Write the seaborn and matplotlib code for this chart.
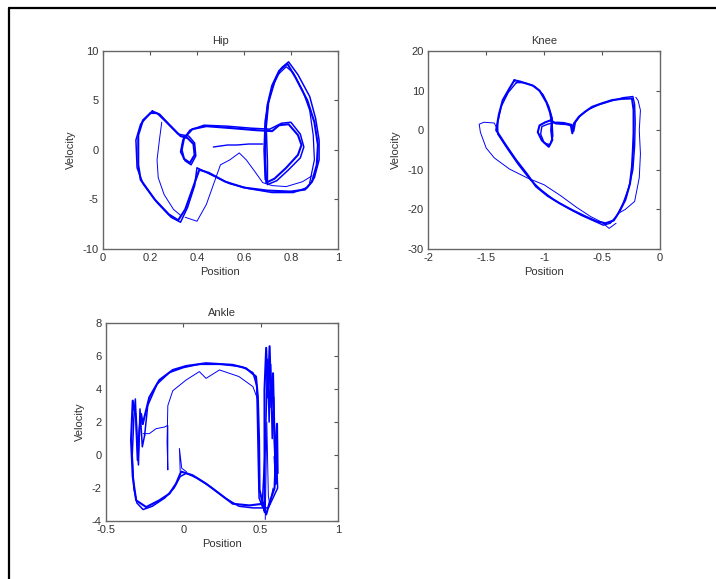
import numpy as np
import pandas as pd
import matplotlib
matplotlib.use("Agg")
import matplotlib.pyplot as plt
from matplotlib.lines import Line2D
import seaborn as sns

# Phase portraits (position, velocity)
# Hip
hip_main_x = [0.21, 0.17, 0.15, 0.15, 0.16, 0.22, 0.28, 0.32, 0.35, 0.38, 0.41, 0.45, 0.52, 0.60, 0.70,
              0.80, 0.86, 0.89, 0.91, 0.915, 0.90, 0.87, 0.82, 0.785, 0.75, 0.72, 0.70, 0.69, 0.69, 0.695,
              0.73, 0.78, 0.83, 0.845, 0.83, 0.79, 0.75, 0.72, 0.65, 0.55, 0.44, 0.38, 0.345, 0.335, 0.345,
              0.37, 0.39, 0.385, 0.36, 0.33, 0.28, 0.24, 0.21]
hip_main_y = [3.9, 3.0, 1.5, -1.5, -3.0, -5.0, -6.5, -7.1, -6.0, -4.0, -2.0, -2.3, -3.2, -3.8, -4.1,
              -4.2, -4.0, -3.2, -1.5, 0.5, 2.8, 5.0, 7.3, 8.7, 8.0, 6.5, 4.5, 2.0, -1.0, -3.3,
              -2.9, -1.8, -0.5, 0.5, 1.5, 2.6, 2.5, 1.9, 2.0, 2.2, 2.4, 2.1, 1.2, 0.0, -0.9,
              -1.3, -0.5, 0.6, 1.2, 1.4, 2.6, 3.6, 3.9]
hip_alt_x = [0.20, 0.16, 0.14, 0.145, 0.17, 0.23, 0.29, 0.33, 0.36, 0.39, 0.40, 0.46, 0.54, 0.62, 0.72,
             0.81, 0.87, 0.90, 0.92, 0.92, 0.905, 0.88, 0.83, 0.79, 0.76, 0.73, 0.705, 0.695, 0.70, 0.70,
             0.74, 0.79, 0.84, 0.855, 0.84, 0.80, 0.76, 0.71, 0.63, 0.53, 0.43, 0.37, 0.34, 0.33, 0.35,
             0.375, 0.395, 0.39, 0.365, 0.32, 0.27, 0.23, 0.20]
hip_alt_y = [3.7, 2.6, 1.0, -1.8, -3.4, -5.3, -6.8, -7.3, -5.8, -3.6, -1.8, -2.5, -3.4, -3.9, -4.3,
             -4.3, -3.8, -2.8, -1.0, 1.0, 3.2, 5.4, 7.6, 8.9, 8.3, 6.8, 4.8, 2.3, -1.2, -3.5,
             -3.1, -2.0, -0.8, 0.3, 1.6, 2.8, 2.7, 2.1, 2.2, 2.4, 2.5, 2.0, 1.0, -0.2, -1.1,
             -1.5, -0.6, 0.7, 1.4, 1.6, 2.8, 3.7, 3.7]
hip_lobe_x = [0.69, 0.685, 0.69, 0.71, 0.74, 0.78, 0.81, 0.85, 0.88, 0.895, 0.90, 0.88]
hip_lobe_y = [-3.0, 0.0, 3.0, 5.5, 7.5, 8.4, 7.8, 6.0, 4.0, 1.5, -1.0, -3.3]
hip_thin1_x = [0.25, 0.24, 0.23, 0.235, 0.26, 0.30, 0.33]
hip_thin1_y = [2.8, 1.0, -1.0, -2.8, -4.5, -6.0, -6.6]
hip_thin2_x = [0.35, 0.40, 0.44, 0.47, 0.50, 0.54, 0.58, 0.61, 0.65, 0.68, 0.72, 0.78, 0.85, 0.89]
hip_thin2_y = [-6.8, -7.2, -5.5, -3.5, -1.5, -1.0, -0.3, -1.0, -2.3, -3.3, -3.6, -3.7, -3.2, -2.6]
hip_thin3_x = [0.47, 0.50, 0.53, 0.57, 0.62, 0.68]
hip_thin3_y = [0.3, 0.4, 0.5, 0.5, 0.6, 0.6]

# Knee
knee_main_x = [-1.257, -1.30, -1.357, -1.39, -1.414, -1.33, -1.243, -1.15, -1.071, -0.97, -0.871, -0.75,
               -0.643, -0.55, -0.471, -0.40, -0.35, -0.30, -0.26, -0.243, -0.235, -0.229, -0.229, -0.243,
               -0.33, -0.414, -0.50, -0.586, -0.65, -0.70, -0.743, -0.757, -0.77, -0.81, -0.86, -0.90,
               -0.943, -0.99, -1.04, -1.055, -1.02, -0.96, -0.93, -0.94, -0.935, -0.95, -0.98, -1.04,
               -1.10, -1.157, -1.21, -1.257]
knee_main_y = [12.6, 10.5, 7.6, 4.0, 0.0, -3.8, -7.5, -11.0, -14.2, -16.6, -18.4, -20.3,
               -21.8, -23.0, -23.5, -22.8, -20.5, -17.6, -13.5, -9.2, -5.0, -0.7, 5.1, 8.0,
               7.9, 7.6, 6.8, 5.9, 4.6, 3.4, 1.7, -0.8, 1.2, 1.5, 1.6, 1.7,
               2.5, 2.0, 1.2, -0.5, -2.6, -4.2, -2.5, 0.0, 2.2, 4.5, 7.0, 10.0,
               11.3, 11.8, 12.3, 12.6]
knee_alt_x = [-1.24, -1.31, -1.37, -1.40, -1.40, -1.31, -1.22, -1.12, -1.03, -0.92, -0.80, -0.68,
              -0.58, -0.49, -0.43, -0.37, -0.32, -0.27, -0.235, -0.22, -0.215, -0.22, -0.235, -0.32,
              -0.43, -0.53, -0.62, -0.69, -0.73, -0.745, -0.76, -0.83, -0.89, -0.93, -0.97, -1.02,
              -1.03, -1.00, -0.95, -0.925, -0.93, -0.93, -0.96, -1.01, -1.08, -1.17, -1.24]
knee_alt_y = [12.0, 9.5, 6.0, 2.0, -1.0, -5.0, -8.8, -12.5, -15.0, -17.5, -19.6, -21.5,
              -22.8, -24.0, -23.5, -21.5, -18.5, -14.5, -10.0, -4.0, 2.0, 6.5, 8.5, 8.2,
              7.3, 6.4, 5.2, 3.6, 2.0, -0.3, 1.4, 1.9, 2.0, 1.8, 1.5, 0.9,
              -1.0, -3.2, -3.7, -1.5, 1.0, 3.0, 6.0, 9.0, 11.0, 12.0, 12.0]
knee_outer_x = [-1.40, -1.43, -1.52, -1.56, -1.55, -1.50, -1.43, -1.30, -1.15, -1.00, -0.86, -0.72,
                -0.60, -0.50, -0.44, -0.38]
knee_outer_y = [0.0, 1.8, 2.0, 1.5, -0.5, -4.5, -7.0, -9.8, -12.0, -13.8, -16.5, -19.5,
                -21.8, -23.3, -24.8, -23.5]
knee_right_x = [-0.36, -0.30, -0.22, -0.18, -0.17, -0.18, -0.17, -0.19, -0.21]
knee_right_y = [-21.0, -20.0, -18.0, -12.0, -6.0, 0.0, 5.0, 7.5, 8.3]

# Ankle
ankle_main_x = [-0.262, -0.22, -0.155, -0.068, 0.018, 0.147, 0.32, 0.406, 0.47, 0.482, 0.49, 0.493,
                0.526, 0.525, 0.536, 0.547, 0.558, 0.569, 0.58, 0.59, 0.60, 0.59, 0.61, 0.606,
                0.59, 0.56, 0.536, 0.514, 0.428, 0.32, 0.234, 0.147, 0.06, -0.014, -0.047, -0.09,
                -0.155, -0.24, -0.305, -0.327, -0.338, -0.327, -0.306, -0.295, -0.284, -0.273, -0.262]
ankle_main_y = [1.9, 3.5, 4.55, 5.16, 5.4, 5.57, 5.47, 5.26, 4.76, 3.54, 0.9, -2.1,
                -3.45, 3.95, 6.5, 3.5, 6.6, 2.9, 4.96, 0.9, -1.73, -0.1, -1.1, 1.9,
                -2.0, -2.8, -3.6, -2.95, -3.05, -2.95, -2.34, -1.73, -1.22, -1.0, -1.73, -2.34,
                -2.74, -3.15, -2.74, -1.3, 0.9, 3.3, 2.3, -0.3, 1.5, 2.5, 1.9]
ankle_alt_x = [-0.25, -0.23, -0.17, -0.09, 0.0, 0.10, 0.25, 0.38, 0.45, 0.475, 0.48, 0.485,
               0.49, 0.51, 0.53, 0.545, 0.555, 0.565, 0.575, 0.585, 0.595, 0.60, 0.61, 0.58,
               0.55, 0.52, 0.45, 0.36, 0.27, 0.18, 0.09, 0.02, -0.02, -0.06, -0.12, -0.20,
               -0.26, -0.30, -0.32, -0.33, -0.32, -0.31, -0.30, -0.29, -0.28, -0.265, -0.25]
ankle_alt_y = [1.2, 3.0, 4.3, 5.0, 5.3, 5.5, 5.5, 5.35, 5.0, 4.2, 2.0, -0.5,
               -2.6, -3.1, 0.5, 5.8, 2.0, 5.5, 1.0, 3.5, -1.5, 0.5, -2.0, -2.6,
               -3.2, -3.2, -3.2, -3.1, -2.6, -1.95, -1.4, -1.1, -1.3, -2.0, -2.6, -3.1,
               -3.3, -2.9, -2.0, 0.0, 2.2, 3.4, 1.0, -0.6, 2.8, 0.5, 1.2]
ankle_inner_x = [-0.26, -0.22, -0.176, -0.122, -0.10, -0.10, -0.105, -0.10, -0.068, 0.018, 0.104,
                 0.147, 0.234, 0.36, 0.45, 0.48]
ankle_inner_y = [1.3, 1.3, 1.6, 1.7, 1.8, -0.9, 0.8, 3.0, 3.9, 4.55, 5.06,
                 4.65, 5.16, 4.76, 4.15, 3.4]
ankle_tail_x = [-0.02, -0.025, -0.01, 0.02]
ankle_tail_y = [-1.0, 0.4, -0.8, -1.0]
ankle_spike_x = [0.53, 0.535, 0.54, 0.55, 0.56, 0.58]
ankle_spike_y = [-3.9, -1.0, 2.0, -2.5, -3.0, -2.0]

panels = [
    ("Hip", [0.1439, 0.570, 0.328, 0.342], (0, 1), np.arange(0, 1.01, 0.2), ["0", "0.2", "0.4", "0.6", "0.8", "1"],
     (-10, 10), [-10, -5, 0, 5, 10],
     [(hip_main_x, hip_main_y, 1.5), (hip_alt_x, hip_alt_y, 1.1), (hip_lobe_x, hip_lobe_y, 0.9),
      (hip_thin1_x, hip_thin1_y, 0.7), (hip_thin2_x, hip_thin2_y, 0.7), (hip_thin3_x, hip_thin3_y, 1.0)]),
    ("Knee", [0.598, 0.570, 0.324, 0.342], (-2, 0), [-2, -1.5, -1, -0.5, 0], ["-2", "-1.5", "-1", "-0.5", "0"],
     (-30, 20), [-30, -20, -10, 0, 10, 20],
     [(knee_main_x, knee_main_y, 1.5), (knee_alt_x, knee_alt_y, 1.0),
      (knee_outer_x, knee_outer_y, 0.7), (knee_right_x, knee_right_y, 0.7)]),
    ("Ankle", [0.148, 0.100, 0.324, 0.342], (-0.5, 1), [-0.5, 0, 0.5, 1], ["-0.5", "0", "0.5", "1"],
     (-4, 8), [-4, -2, 0, 2, 4, 6, 8],
     [(ankle_main_x, ankle_main_y, 1.5), (ankle_alt_x, ankle_alt_y, 1.1), (ankle_inner_x, ankle_inner_y, 0.7),
      (ankle_tail_x, ankle_tail_y, 0.7), (ankle_spike_x, ankle_spike_y, 0.7)]),
]

sns.set_style("white")
plt.rcParams['font.family'] = ['Liberation Sans', 'DejaVu Sans']
plt.rcParams['axes.unicode_minus'] = False

fig = plt.figure(figsize=(7.16, 5.79), dpi=100)

for title, rect, xlim, xticks, xlabels, ylim, yticks, traces in panels:
    ax = fig.add_axes(rect)
    for tx, ty, lw in traces:
        df = pd.DataFrame({"Position": tx, "Velocity": ty})
        sns.lineplot(data=df, x="Position", y="Velocity", sort=False, estimator=None,
                     color="#0000ff", lw=lw, ax=ax)
    ax.set_xlim(*xlim)
    ax.set_ylim(*ylim)
    ax.set_xticks(xticks)
    ax.set_xticklabels(xlabels)
    ax.set_yticks(yticks)
    ax.set_title(title, fontsize=8, color="#333333", pad=5)
    ax.set_xlabel("Position", fontsize=8, color="#333333", labelpad=3)
    ax.set_ylabel("Velocity", fontsize=8, color="#333333", labelpad=5)
    ax.tick_params(direction="in", top=True, right=True, length=3, width=0.8,
                   colors="#555555", labelsize=8, labelcolor="#333333", pad=3)
    for s in ax.spines.values():
        s.set_color("#666666")
        s.set_linewidth(1.0)

# outer frame lines (top and left)
fig.add_artist(Line2D([9 / 716, 1], [1 - 8 / 579, 1 - 8 / 579], transform=fig.transFigure, color="black", lw=1.6))
fig.add_artist(Line2D([9 / 716, 9 / 716], [0, 1 - 8 / 579], transform=fig.transFigure, color="black", lw=1.6))

fig.savefig("out.png", dpi=100)
